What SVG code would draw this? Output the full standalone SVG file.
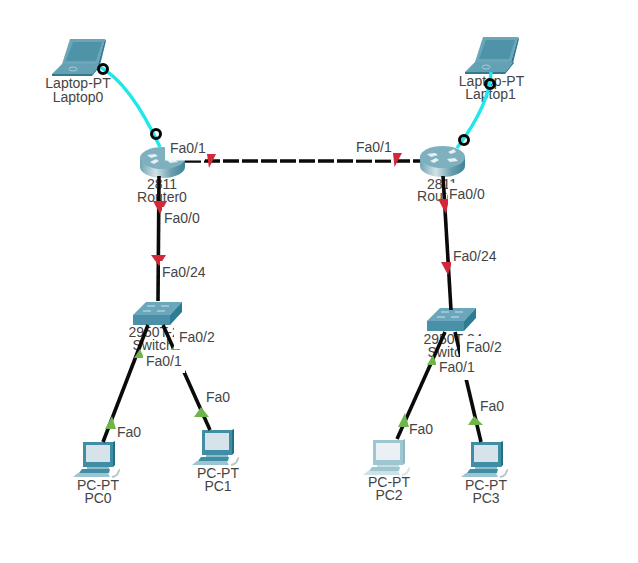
<svg xmlns="http://www.w3.org/2000/svg" xmlns:xlink="http://www.w3.org/1999/xlink" width="638" height="563" viewBox="0 0 638 563">
<style>
text{font-family:"Liberation Sans",Arial,sans-serif;font-size:14px;fill:#444;text-anchor:middle;dominant-baseline:central}
.port{text-anchor:start}
.box{fill:#fff}
.cu{fill:none;stroke:#0a0a0a;stroke-width:3.600}
.dash{stroke-dasharray:16 3}
.cross{fill:none;stroke:#1ee8e8;stroke-width:3.400}
.ring{fill:none;stroke:#050505;stroke-width:3}
.red{fill:#d2283a}
.green{fill:#6fb54c}
</style>
<defs>
<linearGradient id="rg" x1="0" x2="1" y1="0" y2="0">
<stop offset="0" stop-color="#6fa5b4"/><stop offset=".35" stop-color="#d2e2e6"/><stop offset=".7" stop-color="#6a9fb0"/><stop offset="1" stop-color="#3f8297"/>
</linearGradient>
<g id="laptop">
<polygon points="70,39 105,39 98,64 62,64" fill="#6ba6b8"/>
<polygon points="73,42 102,42 96,61 66,61" fill="#4f93a9"/>
<polygon points="105,39 106,41 100,65 98,64" fill="#2f7a90"/>
<polygon points="62,64 100,64 92,74 52,74" fill="#64a1b5"/>
<polygon points="52,74 92,74 92,76 52,76" fill="#2f7a90"/>
<polygon points="92,74 100,64 101,65 92,76" fill="#2f7a90"/>
<ellipse cx="73" cy="69" rx="4" ry="2" fill="none" stroke="#a9cbd6"/>
</g>
<g id="router">
<path d="M0,11V20C0,26 10,31 22.500,31S45,26 45,20V11Z" fill="url(#rg)"/>
<ellipse cx="22.500" cy="11" rx="22.500" ry="11" fill="#7fb0bf"/>
<path d="M7,8l8,-1 3,2 -7,2zM28,6l6,-3 2,3 -5,2zM10,15l6,-3 3,2 -5,3zM27,13l8,-1 3,3 -8,1z" fill="#e6f0f3"/>
</g>
<g id="switch">
<polygon points="0,0 13,-13 49,-13 37,0" fill="#6aa6bc"/>
<rect width="37" height="10" fill="#4a90a9"/>
<polygon points="37,0 49,-13 49,-3 37,10" fill="#2d7c95"/>
<path d="M14,-9h8M28,-9h8M10,-4h8M24,-4h8" stroke="#cfe3ea" stroke-width="1"/>
</g>
<g id="pc">
<rect x="10" y="0" width="30" height="25" fill="#3f8ea5"/>
<polygon points="40,0 42,-1 42,23 40,25" fill="#226f86"/>
<rect x="13" y="3" width="24" height="17" fill="#d6e3ea"/>
<rect x="14" y="25" width="22" height="2" fill="#8fbccb"/>
<polygon points="9,27 37,27 36,31 6,31" fill="#3f8ea5"/>
<polygon points="5,31 35,31 37,35 0,35" fill="#9cc4d1"/>
<path d="M39,35q5,-1 6,-4t2,-3" fill="none" stroke="#b9c6cb" stroke-width="2"/>
</g>
</defs>

<g id="Laptop0"><use xlink:href="#laptop" href="#laptop"/><text x="78" y="83">Laptop-PT</text><text x="78" y="97">Laptop0</text></g>
<g id="Laptop1"><use xlink:href="#laptop" href="#laptop" x="413" y="-2"/><text x="491.500" y="81">Laptop-PT</text><text x="490.500" y="94">Laptop1</text></g>
<g id="Router0"><use xlink:href="#router" href="#router" x="140" y="147"/><text x="162" y="184">2811</text><text x="162" y="197">Router0</text></g>
<g id="Router1"><use xlink:href="#router" href="#router" x="420" y="146"/><text x="442" y="184">2811</text><text x="442" y="196">Router1</text></g>
<g id="Switch0"><use xlink:href="#switch" href="#switch" x="133" y="315"/><text x="158" y="332">2950T-24</text><text x="157" y="345">Switch0</text></g>
<g id="Switch1"><use xlink:href="#switch" href="#switch" x="427" y="321"/><text x="453" y="339">2950T-24</text><text x="452" y="352">Switch1</text></g>
<g id="PC0"><use xlink:href="#pc" href="#pc" x="73" y="442"/><text x="98" y="485">PC-PT</text><text x="98" y="498">PC0</text></g>
<g id="PC1"><use xlink:href="#pc" href="#pc" x="192" y="430"/><text x="218" y="473">PC-PT</text><text x="218" y="486">PC1</text></g>
<g id="PC2"><use xlink:href="#pc" href="#pc" x="363" y="440" opacity=".5"/><text x="389" y="482">PC-PT</text><text x="389" y="495">PC2</text></g>
<g id="PC3"><use xlink:href="#pc" href="#pc" x="461" y="442"/><text x="486" y="485">PC-PT</text><text x="486" y="498">PC3</text></g>

<g id="connectors">
<path class="cross" d="M100,67Q130,83 160,147"/>
<path class="cross" d="M491,72Q490,104 457,148"/>
<circle class="ring" cx="103" cy="69" r="4.500"/>
<circle class="ring" cx="156" cy="134" r="4.500"/>
<circle class="ring" cx="490" cy="84" r="4.500"/>
<circle class="ring" cx="464" cy="140" r="4.500"/>
<path class="cu dash" d="M185,161H420"/>
<path class="cu" d="M159,176L158,301"/>
<path class="cu" d="M443,176L451,310"/>
<path class="cu" d="M148,325L103,442"/>
<path class="cu" d="M163,325L210,430"/>
<path class="cu" d="M445,332L397,439"/>
<path class="cu" d="M455,332L481,442"/>
<polygon class="red" points="207,154 216,154 209,168"/>
<polygon class="red" points="393,153 402,153 394.500,167"/>
<polygon class="red" points="153,201 167,201 160,214"/>
<polygon class="red" points="151,255 166,255 159,266"/>
<polygon class="red" points="438,199 449,199 446,214"/>
<polygon class="red" points="441,262 452,262 448,275"/>
<polygon class="green" points="134,358 144,358 140,349"/>
<polygon class="green" points="105,429 116,429 112,416"/>
<polygon class="green" points="171,350 179,350 174,346"/>
<polygon class="green" points="194,417 209,417 201,407"/>
<polygon class="green" points="427,365 437,365 433,355"/>
<polygon class="green" points="398,427 409,427 405,413"/>
<polygon class="green" points="468,425 483,425 474,416"/>
</g>

<g id="port-labels">
<rect class="box" x="165" y="137" width="40" height="23.500"/><text class="port" x="170" y="148">Fa0/1</text>
<rect class="box" x="354" y="136" width="38" height="23.500"/><text class="port" x="356" y="147">Fa0/1</text>
<rect class="box" x="162" y="207" width="40" height="23"/><text class="port" x="164" y="218">Fa0/0</text>
<rect class="box" x="448" y="183" width="38" height="23"/><text class="port" x="449" y="194">Fa0/0</text>
<rect class="box" x="160" y="261" width="47" height="23"/><text class="port" x="162" y="272">Fa0/24</text>
<rect class="box" x="451" y="245" width="46" height="23"/><text class="port" x="453" y="256">Fa0/24</text>
<rect class="box" x="174" y="326" width="42" height="23"/><text class="port" x="179" y="337">Fa0/2</text>
<rect class="box" x="460" y="336" width="43" height="23"/><text class="port" x="466" y="347">Fa0/2</text>
<rect class="box" x="143" y="350" width="42" height="23"/><text class="port" x="146" y="361">Fa0/1</text>
<rect class="box" x="436" y="357" width="39" height="23"/><text class="port" x="439" y="367">Fa0/1</text>
<text class="port" x="117" y="432">Fa0</text>
<text class="port" x="206" y="397">Fa0</text>
<text class="port" x="409" y="429">Fa0</text>
<text class="port" x="480" y="406">Fa0</text>
</g>
</svg>
